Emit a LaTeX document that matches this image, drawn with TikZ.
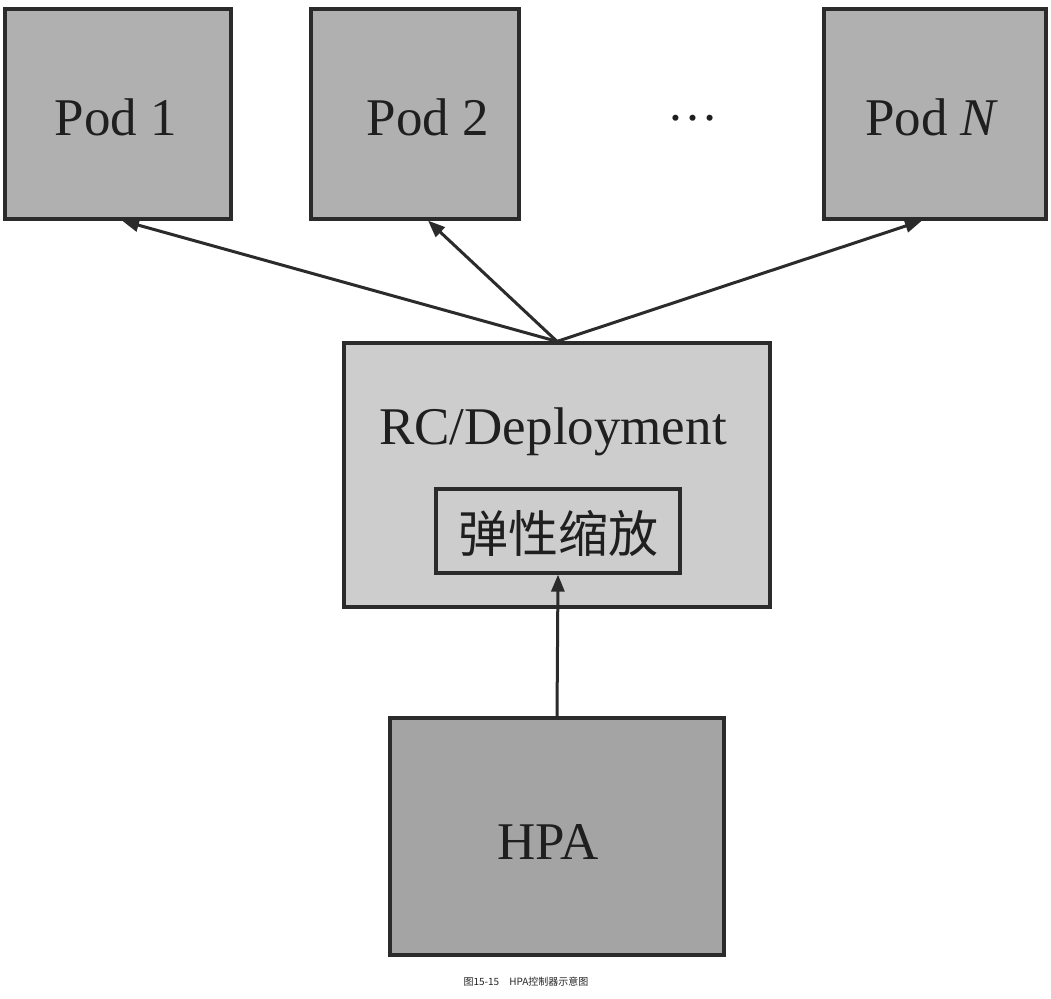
\documentclass[tikz,border=0pt]{standalone}
\usepackage{fontspec}
\setmainfont{Liberation Serif}
\newfontfamily\cjk{Noto Sans CJK SC}
\usetikzlibrary{arrows.meta}
\definecolor{podfill}{HTML}{B1B0B1}
\definecolor{rcfill}{HTML}{CDCDCD}
\definecolor{hpafill}{HTML}{A5A4A5}
\definecolor{edge}{HTML}{2B2B2B}
\tikzset{
  box/.style={draw=edge, line width=3.2pt, rectangle, inner sep=0pt},
  big/.style={font=\fontsize{53}{60}\selectfont, text=black!88},
  conn/.style={draw=edge, line width=3pt, arrows={-Triangle[length=17pt,width=13pt]}}
}
\begin{document}
\begin{tikzpicture}[x=1pt,y=-1pt]
\useasboundingbox[fill=white] (0,0) rectangle (1051,998);
% pods
\node[box, fill=podfill, minimum width=226pt, minimum height=210pt] (pod1) at (118,114) {};
\node[big] (pod1t) at (116,117) {Pod 1};
\node[box, fill=podfill, minimum width=208pt, minimum height=210pt] (pod2) at (415,114) {};
\node[big] (pod2t) at (428,117) {Pod 2};
\node[box, fill=podfill, minimum width=222pt, minimum height=210pt] (podn) at (935,114) {};
\node[big] (podnt) at (932,117) {Pod \textit{N}};
\node[font=\fontsize{51}{56}\selectfont, text=black!88, inner sep=0pt] (dots) at (693,118) {…};
% RC/Deployment
\node[box, fill=rcfill, minimum width=426pt, minimum height=264pt] (rc) at (557,475) {};
\node[big] (rct) at (553,432) {RC/Deployment};
\node[box, fill=rcfill, minimum width=244pt, minimum height=84pt] (scale) at (558,531) {};
\node[font=\cjk\fontsize{50}{56}\selectfont, text=black!88] (scalet) at (558,533) {弹性缩放};
% HPA
\node[box, fill=hpafill, minimum width=334pt, minimum height=237pt] (hpa) at (557,836.5) {};
\node[big] (hpat) at (548,842) {HPA};
% connectors
\draw[conn] (rc.north) -- ([xshift=4pt]pod1.south);
\draw[conn] (rc.north) -- ([xshift=13pt]pod2.south);
\draw[conn] (rc.north) -- ([xshift=-13pt]podn.south);
\draw[conn] (hpa.north) -- (scale.south);
% caption
\node[font=\cjk\fontsize{10}{12}\selectfont, text=black!85] (cap) at (526,982) {图15-15\quad HPA控制器示意图};
\end{tikzpicture}
\end{document}
